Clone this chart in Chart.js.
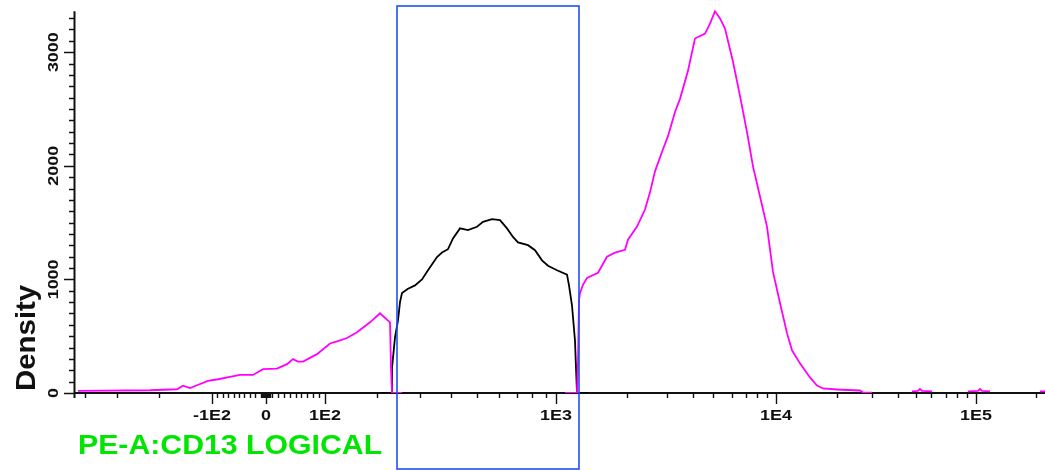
<!DOCTYPE html>
<html>
<head>
<meta charset="utf-8">
<script src="https://cdn.jsdelivr.net/npm/chart.js@4.4.1/dist/chart.umd.min.js"></script>
<style>
  html, body { margin: 0; padding: 0; background: #fff; }
  #wrap { width: 1045px; height: 471px; }
</style>
</head>
<body>
<div id="wrap"><canvas id="histo"></canvas></div>
<script>
// x values are display channels of the logicle PE-A axis (0 = left end of the axis)
const magentaX = [4,76,103,109,116,123,134,144,156,166,179,189,203,213,219,224,229,243,256,263,273,283,296,306,316,317,318,328,329,
    491,503,504,505,506,509,513,524,533,541,551,554,563,571,576,581,589,594,601,606,614,621,631,636,641,646,651,659,666,673,
    679,686,693,699,706,713,718,726,736,743,749,763,786,789,798,800,
    838,844,846,848,858,860,
    894,904,906,908,916,918,
    966,971];
const magentaY = [18,24,33,65,44,68,106,121,142,159,159,210,215,254,298,277,277,342,436,454,484,534,622,702,622,224,0,0,null,
    0,0,288,819,881,952,1013,1058,1199,1235,1261,1350,1465,1615,1766,1951,2146,2261,2474,2589,2836,3120,3164,3252,3360,3297,3208,2916,2615,2296,
    1995,1730,1465,1066,792,527,376,261,137,66,40,31,22,4,4,null,
    15,18,35,18,15,null,
    15,18,35,18,15,null,
    15,15];

// gated events (inside the blue region)
const gatedX = [307,318,318,321,324,326,328,334,341,348,354,363,368,374,379,386,394,403,409,418,
    426,433,439,444,454,461,468,474,483,493,495,498,501,502,503,514];
const gatedY = [0,0,221,490,640,800,880,918,947,1000,1080,1197,1236,1266,1360,1449,1434,1463,1507,1531,
    1522,1449,1374,1325,1301,1257,1168,1120,1080,1042,947,770,460,221,0,0];

const gateRange = [323, 505];

const xMajorTicks = [138, 192, 251, 482, 702, 902];
const xMajorLabels = ['-1E2', '0', '1E2', '1E3', '1E4', '1E5'];
const xMinorTicks = [11, 43, 85,
    143, 149, 154, 160, 165, 170, 176, 181, 187,
    188, 189, 190, 191, 193, 194, 195, 196,
    198, 204, 210, 216, 222, 227, 233, 239, 245,
    303, 346, 377, 403, 425, 443, 458, 472,
    553, 593, 619, 639, 658, 672, 683, 693,
    763, 798, 824, 842, 857, 872, 883, 893, 962];
const yMajorTicks = [0, 1000, 2000, 3000];
const yMinorStep = 100;
const yAxisTop = 3360;

const toPoints = (xs, ys) => xs.map((x, i) => ({ x: x, y: ys[i] }));

function stretchText(ctx, text, x, y, sx, rot, align) {
    ctx.save();
    ctx.translate(x, y);
    if (rot) ctx.rotate(rot);
    ctx.scale(sx, 1);
    ctx.textAlign = align;
    ctx.textBaseline = 'alphabetic';
    ctx.fillText(text, 0, 0);
    ctx.restore();
}

const axesPlugin = {
    id: 'flowAxes',
    // axis lines and ticks go under the curves
    beforeDatasetsDraw(chart) {
        const ctx = chart.ctx;
        const xs = chart.scales.x, ys = chart.scales.y;
        const area = chart.chartArea;
        const y0 = ys.getPixelForValue(0);
        const x0 = area.left;

        ctx.save();
        ctx.strokeStyle = '#111';
        ctx.lineWidth = 2;
        ctx.beginPath();
        ctx.moveTo(x0, y0);
        ctx.lineTo(area.right, y0);
        ctx.moveTo(x0 + 0.5, ys.getPixelForValue(yAxisTop));
        ctx.lineTo(x0 + 0.5, y0 + 5);
        ctx.stroke();

        ctx.lineWidth = 1.4;
        ctx.beginPath();
        xMajorTicks.forEach(v => {
            const px = Math.round(xs.getPixelForValue(v)) + 0.5;
            ctx.moveTo(px, y0); ctx.lineTo(px, y0 + 11);
        });
        xMinorTicks.forEach(v => {
            const px = Math.round(xs.getPixelForValue(v)) + 0.5;
            ctx.moveTo(px, y0); ctx.lineTo(px, y0 + 5);
        });
        for (let v = 0; v <= yAxisTop; v += yMinorStep) {
            const py = Math.round(ys.getPixelForValue(v)) + 0.5;
            const len = yMajorTicks.includes(v) ? 10 : 5;
            ctx.moveTo(x0, py); ctx.lineTo(x0 - len, py);
        }
        ctx.stroke();
        ctx.restore();
    },
    afterDatasetsDraw(chart) {
        const ctx = chart.ctx;
        const xs = chart.scales.x, ys = chart.scales.y;
        const area = chart.chartArea;
        const y0 = ys.getPixelForValue(0);
        const x0 = area.left;

        ctx.save();
        // gate rectangle
        ctx.strokeStyle = '#1f4ff5';
        ctx.lineWidth = 1.6;
        const gx1 = xs.getPixelForValue(gateRange[0]);
        const gx2 = xs.getPixelForValue(gateRange[1]);
        ctx.strokeRect(gx1, area.top - 3, gx2 - gx1, chart.height - area.top + 1);

        // tick labels
        ctx.fillStyle = '#111';
        ctx.font = 'bold 14px "Liberation Sans", Arial, sans-serif';
        xMajorTicks.forEach((v, i) => {
            stretchText(ctx, xMajorLabels[i], xs.getPixelForValue(v), y0 + 27, 1.28, 0, 'center');
        });
        yMajorTicks.forEach(v => {
            stretchText(ctx, String(v), x0 - 16, ys.getPixelForValue(v), 1.28, -Math.PI / 2, 'center');
        });

        // axis titles
        ctx.font = 'bold 28px "Liberation Sans", Arial, sans-serif';
        stretchText(ctx, 'Density', x0 - 39, y0 - 2, 1.05, -Math.PI / 2, 'left');
        ctx.fillStyle = '#00e600';
        ctx.font = 'bold 27px "Liberation Sans", Arial, sans-serif';
        stretchText(ctx, 'PE-A:CD13 LOGICAL', x0 + 4, y0 + 61, 1.12, 0, 'left');
        ctx.restore();
    }
};

const ctx = document.getElementById('histo').getContext('2d');
const histoChart = new Chart(ctx, {
    type: 'line',
    data: {
        datasets: [
            {
                label: 'PE-A',
                data: toPoints(magentaX, magentaY),
                borderColor: '#ff00ff',
                borderWidth: 1.8,
                pointRadius: 0,
                spanGaps: false,
                fill: false
            },
            {
                label: 'Gated',
                data: toPoints(gatedX, gatedY),
                borderColor: '#000000',
                borderWidth: 1.8,
                pointRadius: 0,
                spanGaps: false,
                fill: false
            }
        ]
    },
    options: {
        responsive: true,
        maintainAspectRatio: false,
        animation: false,
        layout: { padding: { left: 74, right: 0, top: 9, bottom: 78 } },
        scales: {
            x: { type: 'linear', min: 0, max: 971, display: false },
            y: { type: 'linear', min: 0, max: 3380, display: false }
        },
        plugins: {
            legend: { display: false },
            tooltip: { enabled: false }
        }
    },
    plugins: [axesPlugin]
});
</script>
</body>
</html>
